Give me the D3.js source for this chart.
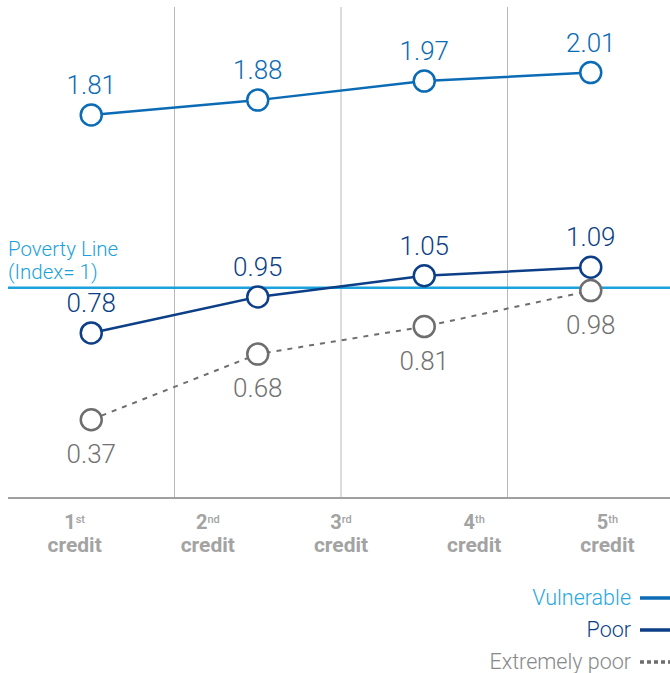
<!DOCTYPE html>
<html><head><meta charset="utf-8">
<script src="https://cdn.jsdelivr.net/npm/d3@7"></script>
<style>html,body{margin:0;padding:0;background:#fff;} svg{display:block;font-family:Roboto,"Open Sans",sans-serif;}</style>
</head><body>
<svg id="c" width="670" height="673"></svg>
<script>
const creditNums = ["1", "2", "3", "4", "5"];
const creditSups = ["st", "nd", "rd", "th", "th"];
const stages = ["s1", "s2", "s3", "s4"];
const vulnerable = [1.81, 1.88, 1.97, 2.01];
const poor = [0.78, 0.95, 1.05, 1.09];
const extremelyPoor = [0.37, 0.68, 0.81, 0.98];
const povertyValue = 1;
const seriesNames = ["Vulnerable", "Poor", "Extremely poor"];

const svg = d3.select("#c");
const W = 670;
const xCredit = d3.scaleBand().domain(creditNums).range([8, 674]);
const xStage = d3.scaleBand().domain(stages).range([8, 674]);
const y = d3.scaleLinear().domain([0, 2.32]).range([498, 7]);

// gridlines at stage band boundaries
const gridX = stages.slice(1).map(s => xStage(s));
svg.selectAll(".grid").data(gridX).join("line")
  .attr("x1", d => d).attr("x2", d => d)
  .attr("y1", 7).attr("y2", 498)
  .attr("stroke", "#b9b9b9").attr("stroke-width", 1);

// x axis line
svg.append("line").attr("x1", 8).attr("x2", W).attr("y1", 498).attr("y2", 498)
  .attr("stroke", "#a0a0a0").attr("stroke-width", 2);

// category labels
const cat = svg.selectAll(".cat").data(creditNums).join("g")
  .attr("transform", d => `translate(${xCredit(d) + xCredit.bandwidth() / 2},0)`);
const t1 = cat.append("text").attr("y", 529).attr("text-anchor", "middle")
  .attr("fill", "#a3a3a3").attr("font-size", 20).attr("font-weight", 700);
t1.append("tspan").text(d => d);
t1.append("tspan").attr("font-size", 11).attr("font-weight", 500).attr("dy", -6).text((d, i) => creditSups[i]);
cat.append("text").attr("y", 552).attr("text-anchor", "middle")
  .attr("fill", "#a3a3a3").attr("font-size", 21).attr("font-weight", 700).text("credit");

// poverty line
svg.append("line").attr("x1", 8).attr("x2", W).attr("y1", y(povertyValue) + 1.5).attr("y2", y(povertyValue) + 1.5)
  .attr("stroke", "#1ba1db").attr("stroke-width", 2.5);
svg.append("text").attr("x", 8).attr("y", 256).attr("fill", "#1ba1db").attr("font-size", 20.5).attr("font-weight", 300).text("Poverty Line");
svg.append("text").attr("x", 8).attr("y", 279).attr("fill", "#1ba1db").attr("font-size", 20.5).attr("font-weight", 300).text("(Index= 1)");

const cx = (d, i) => xStage(stages[i]) + xStage.bandwidth() / 2;
const line = d3.line().x(cx).y(d => y(d));

const series = [
  { name: "Vulnerable", vals: vulnerable, color: "#0b6bb5", text: "#0b6bb5", dash: null, width: 2.5, below: false },
  { name: "Poor", vals: poor, color: "#0c3f87", text: "#0c3f87", dash: null, width: 2.5, below: false },
  { name: "Extremely poor", vals: extremelyPoor, color: "#6e6e6e", text: "#717171", dash: "5,6", width: 2, below: true }
];

series.slice().reverse().forEach(s => {
  svg.append("path").datum(s.vals).attr("d", line).attr("fill", "none")
    .attr("stroke", s.color).attr("stroke-width", s.width)
    .attr("stroke-dasharray", s.dash);
});
series.forEach(s => {
  svg.selectAll(null).data(s.vals).join("circle")
    .attr("cx", cx).attr("cy", d => y(d)).attr("r", 10.5)
    .attr("fill", "#fff").attr("stroke", s.color).attr("stroke-width", 2.5);
  svg.selectAll(null).data(s.vals).join("text")
    .attr("x", cx).attr("y", d => y(d) + (s.below ? 43 : -21))
    .attr("text-anchor", "middle").attr("fill", s.text).attr("font-size", 26).attr("font-weight", 300)
    .text(d => d3.format(".2f")(d));
});

// legend
const legY = [598, 630, 662];
const legTextColor = ["#29a8e0", "#0c3f87", "#888888"];
series.forEach((s, i) => {
  svg.append("text").attr("x", 631).attr("y", legY[i] + 7).attr("text-anchor", "end")
    .attr("fill", legTextColor[i]).attr("font-size", 21.5).attr("font-weight", 300).text(seriesNames[i]);
  svg.append("line").attr("x1", 640).attr("x2", 670).attr("y1", legY[i]).attr("y2", legY[i])
    .attr("stroke", s.color).attr("stroke-width", 3.5)
    .attr("stroke-dasharray", s.dash ? "4,3" : null);
});
</script>
</body></html>
